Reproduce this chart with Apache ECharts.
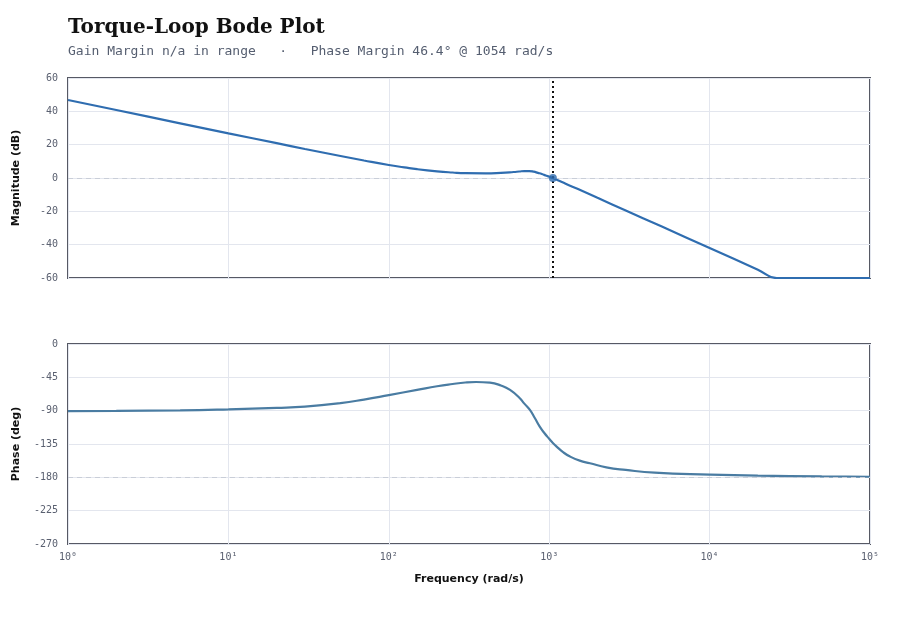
<!DOCTYPE html>
<html><head><meta charset="utf-8">
<script src="https://cdn.jsdelivr.net/npm/echarts@6/dist/echarts.min.js"></script>
<style>html,body{margin:0;padding:0;background:#fff}#c{width:900px;height:620px}</style>
</head><body><div id="c"></div>
<script>
const magFreqs = [1, 2, 5, 10, 20, 30, 50, 70, 100, 125, 150, 200, 250, 300, 400, 500, 600, 650, 700, 750, 800, 850, 900, 950, 1000, 1054, 1200, 1349, 1500, 2000, 3000, 5000, 10000, 20000, 26200, 26800, 50000, 100000];
const magDb = [46.8, 40.8, 32.8, 26.8, 20.9, 17.4, 13.2, 10.5, 7.8, 6.4, 5.3, 4.0, 3.3, 2.9, 2.8, 3.1, 3.6, 3.9, 4.15, 4.15, 3.8, 3.1, 2.4, 1.5, 0.8, 0, -2.4, -4.6, -6.5, -11.9, -19.5, -29.0, -42.0, -55.0, -60, -60, -60, -60];
const phaseFreqs = [1, 2, 5, 10, 20, 30, 50, 70, 100, 150, 200, 250, 300, 350, 427, 500, 570, 656, 700, 758, 815, 873, 935, 1000, 1054, 1113, 1220, 1349, 1550, 1795, 2270, 3000, 4540, 10000, 20000, 50000, 100000];
const phaseDeg = [-90.5, -90.3, -89.6, -88.2, -86.2, -84.5, -79.8, -75, -69, -62, -57, -54, -52, -51.3, -52.2, -56, -62, -73.3, -80.5, -89, -100.3, -111.6, -120.5, -128, -133.6, -138.5, -146, -152, -157.5, -161, -166.5, -170, -173.7, -176.3, -177.8, -178.8, -179.2];
const crossover = 1054;
const magTicks = [-60, -40, -20, 0, 20, 40, 60];
const phaseTicks = [-270, -225, -180, -135, -90, -45, 0];
const decadeLabels = {1: '10⁰', 10: '10¹', 100: '10²', 1000: '10³', 10000: '10⁴', 100000: '10⁵'};

const mono = 'DejaVu Sans Mono';
const tickColor = '#5a6070';
const gridCol = '#e3e6ee';
const frameCol = '#565964';

const chart = echarts.init(document.getElementById('c'), null, {renderer: 'canvas'});
const magData = magFreqs.map((f, i) => [f, magDb[i]]);
const phData = phaseFreqs.map((f, i) => [f, phaseDeg[i]]);

function xAxis(idx, showLabels) {
  return {
    type: 'log', logBase: 10, min: 1, max: 100000, gridIndex: idx,
    axisLine: {show: false}, axisTick: {show: false},
    splitLine: {show: true, lineStyle: {color: gridCol, width: 1}},
    axisLabel: {show: showLabels, fontFamily: mono, fontSize: 10, color: tickColor, margin: 8,
      formatter: v => decadeLabels[Math.round(v)] || ''},
    name: showLabels ? 'Frequency (rad/s)' : '', nameLocation: 'middle', nameGap: 30,
    nameTextStyle: {fontFamily: 'DejaVu Sans', fontWeight: 'bold', fontSize: 11, color: '#111'}
  };
}
function yAxis(idx, min, max, interval, name) {
  return {
    type: 'value', gridIndex: idx, min, max, interval,
    axisLine: {show: false}, axisTick: {show: false},
    splitLine: {show: true, lineStyle: {color: gridCol, width: 1}},
    axisLabel: {fontFamily: mono, fontSize: 10, color: tickColor, margin: 10},
    name, nameLocation: 'middle', nameGap: 46,
    nameTextStyle: {fontFamily: 'DejaVu Sans', fontWeight: 'bold', fontSize: 11, color: '#111'}
  };
}

chart.setOption({
  animation: false,
  title: [{
    text: 'Torque-Loop Bode Plot', left: 63, top: 13,
    textStyle: {fontFamily: 'DejaVu Serif', fontWeight: 'bold', fontSize: 20, color: '#111'}
  }, {
    text: 'Gain Margin n/a in range   ·   Phase Margin 46.4° @ 1054 rad/s', left: 63, top: 40,
    textStyle: {fontFamily: mono, fontWeight: 'normal', fontSize: 13, color: '#555e70'}
  }],
  grid: [
    {left: 68, right: 30, top: 78, height: 200, show: true, borderColor: frameCol, borderWidth: 2, backgroundColor: 'transparent'},
    {left: 68, right: 30, top: 344, height: 200, show: true, borderColor: frameCol, borderWidth: 2, backgroundColor: 'transparent'}
  ],
  xAxis: [xAxis(0, false), xAxis(1, true)],
  yAxis: [yAxis(0, magTicks[0], magTicks[magTicks.length - 1], 20, 'Magnitude (dB)'),
          yAxis(1, phaseTicks[0], phaseTicks[phaseTicks.length - 1], 45, 'Phase (deg)')],
  series: [
    {
      type: 'line', xAxisIndex: 0, yAxisIndex: 0, data: magData, smooth: 0.5, showSymbol: false,
      lineStyle: {color: '#2f6db0', width: 2.2}, z: 3,
      markLine: {
        silent: true, symbol: 'none', label: {show: false},
        data: [
          {yAxis: 0, lineStyle: {color: '#c9ced8', type: [5, 4], width: 1.2}},
          {xAxis: crossover, lineStyle: {color: '#111', type: [2, 3], width: 2}}
        ]
      }
    },
    {
      type: 'scatter', xAxisIndex: 0, yAxisIndex: 0, data: [[crossover, 0]],
      symbolSize: 8, itemStyle: {color: '#2f6db0'}, z: 5
    },
    {
      type: 'line', xAxisIndex: 1, yAxisIndex: 1, data: phData, smooth: 0.5, showSymbol: false,
      lineStyle: {color: '#4a7ca2', width: 2.2}, z: 3,
      markLine: {
        silent: true, symbol: 'none', label: {show: false},
        data: [{yAxis: -180, lineStyle: {color: '#c9ced8', type: [5, 4], width: 1.2}}]
      }
    }
  ]
});
</script></body></html>
